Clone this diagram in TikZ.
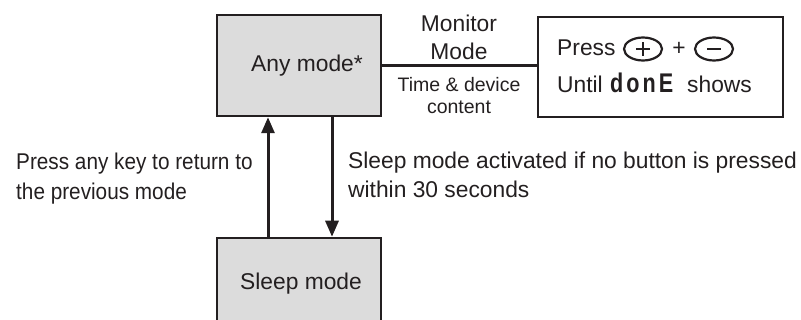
\documentclass[tikz,border=0pt]{standalone}
\usepackage{fontspec}
\setmainfont{Liberation Sans}
\newfontfamily\narrowfont[FakeStretch=0.91]{Liberation Sans}
\newfontfamily\segfont[FakeStretch=0.8]{Liberation Sans}
\usetikzlibrary{arrows.meta,shapes.geometric}
\definecolor{ink}{HTML}{231F20}
\definecolor{boxfill}{HTML}{DCDCDC}
\tikzset{
  modebox/.style={draw=ink, line width=2.5pt, fill=boxfill, inner sep=0pt},
  infobox/.style={draw=ink, line width=2.5pt, fill=white, inner sep=0pt},
  arr/.style={draw=ink, line width=3pt, -{Triangle[length=16pt,width=13pt]}},
  conn/.style={draw=ink, line width=2.5pt},
  txt/.style={font=\fontsize{22.8}{30}\selectfont, text=ink, inner sep=0pt},
  smalltxt/.style={font=\fontsize{19.5}{24}\selectfont, text=ink, inner sep=0pt},
  narrowtxt/.style={font=\narrowfont\fontsize{22.8}{30}\selectfont, text=ink, inner sep=0pt},
  key/.style={draw=ink, line width=2.2pt, ellipse, minimum width=38pt, minimum height=23pt, inner sep=0pt},
  keysym/.style={draw=ink, line width=2.5pt}
}
\begin{document}
\begin{tikzpicture}[x=1pt,y=-1pt]
\useasboundingbox (0,0) rectangle (801,320);
\clip (0,0) rectangle (801,320);
% boxes
\node[modebox, minimum width=164pt, minimum height=101pt, txt] (any) at (299,65.5) {\hspace*{16pt}Any mode*};
\node[infobox, minimum width=245pt, minimum height=100pt] (info) at (660.5,67) {};
\node[modebox, minimum width=164pt, minimum height=100pt] (sleep) at (299,288) {};
\node[txt, anchor=base] (sleeptxt) at (301,290) {Sleep mode};
% connector
\draw[conn] (any.east) -- (any.east -| info.west);
% middle labels
\node[txt, anchor=base] (mon1) at (459,32) {Monitor};
\node[txt, anchor=base] (mon2) at (459,60) {Mode};
\node[smalltxt, anchor=base] (tdc1) at (459,92) {Time \& device};
\node[smalltxt, anchor=base] (tdc2) at (459,114) {content};
% info content
\node[txt, anchor=base west] (press) at (557,56) {Press};
\node[key] (kplus) at (643,49) {};
\draw[keysym] ([xshift=-7pt]kplus.center) -- ([xshift=7pt]kplus.center);
\draw[keysym] ([yshift=-7pt]kplus.center) -- ([yshift=7pt]kplus.center);
\node[txt, anchor=base] (plus) at (679,56) {+};
\node[key] (kminus) at (714,49) {};
\draw[keysym] ([xshift=-7pt]kminus.center) -- ([xshift=7pt]kminus.center);
\node[txt, anchor=base west] (until) at (557,93) {Until};
\node[txt, anchor=base west, font=\segfont\bfseries\fontsize{27}{30}\selectfont] (done) at (610,93) {d\kern3pt o\kern3pt n\kern3pt E};
\node[txt, anchor=base west] (shows) at (687,93) {shows};
% arrows
\draw[arr] ([xshift=-31pt]sleep.north) -- ([xshift=-31pt]any.south);
\draw[arr] ([xshift=33pt]any.south) -- ([xshift=33pt]sleep.north);
% side texts
\node[narrowtxt, anchor=base west] (l1) at (16,170) {Press any key to return to};
\node[narrowtxt, anchor=base west] (l2) at (16,200) {the previous mode};
\node[txt, anchor=base west] (r1) at (348,169) {Sleep mode activated if no button is pressed};
\node[txt, anchor=base west] (r2) at (348,198) {within 30 seconds};
\end{tikzpicture}
\end{document}
